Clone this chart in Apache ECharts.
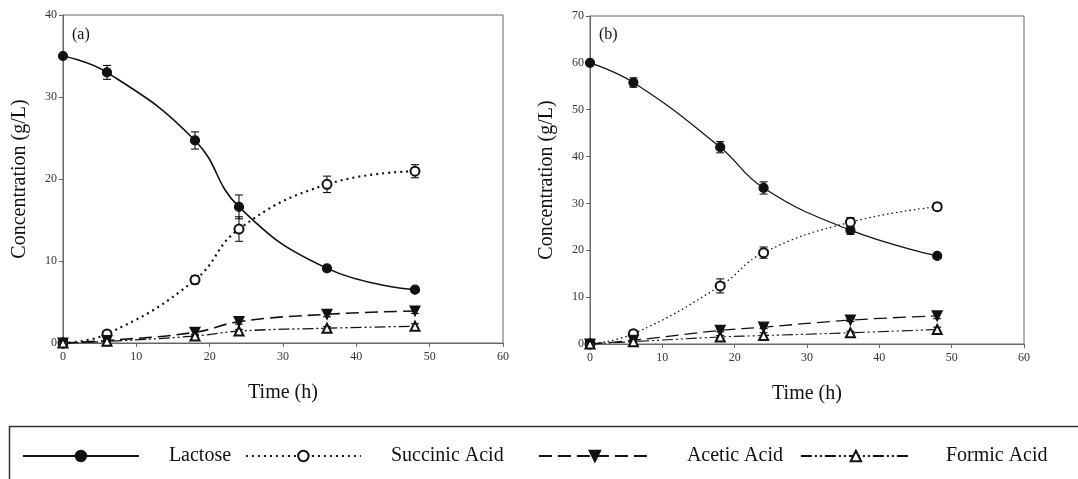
<!DOCTYPE html>
<html>
<head>
<meta charset="utf-8">
<script src="https://cdn.jsdelivr.net/npm/echarts@6/dist/echarts.min.js"></script>
<style>
  html, body { margin: 0; padding: 0; background: #fff; }
  #chart { width: 1078px; height: 479px; }
</style>
</head>
<body>
<div id="chart"></div>
<script>
// Sampling times (h)
const time = [0, 6, 18, 24, 36, 48];
const xTicks = [0, 10, 20, 30, 40, 50, 60];

// Panel (a): 35 g/L initial lactose
const lactoseA     = [35.0, 33.0, 24.7, 16.6, 9.1, 6.5];
const lactoseErrA  = [0.2, 0.85, 1.05, 1.45, 0.3, 0.3];
const succinicA    = [0, 1.1, 7.7, 13.9, 19.35, 20.95];
const succinicErrA = [0, 0.4, 0.5, 1.5, 1.0, 0.8];
const aceticA      = [0, 0.3, 1.3, 2.6, 3.5, 3.9];
const aceticErrA   = [0, 0.1, 0.3, 0.3, 0.3, 0.3];
const formicA      = [0, 0.2, 0.85, 1.45, 1.8, 2.05];
const formicErrA   = [0, 0.1, 0.2, 0.2, 0.2, 0.3];

// Panel (b): 60 g/L initial lactose
const lactoseB     = [60.0, 55.8, 42.0, 33.3, 24.3, 18.8];
const lactoseErrB  = [0.3, 1.0, 1.2, 1.3, 0.9, 0.5];
const succinicB    = [0, 2.2, 12.4, 19.5, 26.0, 29.3];
const succinicErrB = [0, 0.3, 1.5, 1.2, 1.0, 0.8];
const aceticB      = [0, 0.8, 2.9, 3.6, 5.1, 6.0];
const aceticErrB   = [0, 0.2, 0.3, 0.3, 0.3, 0.6];
const formicB      = [0, 0.5, 1.5, 1.8, 2.4, 3.1];
const formicErrB   = [0, 0.1, 0.3, 0.6, 0.3, 0.5];

const names = ['Lactose', 'Succinic Acid', 'Acetic Acid', 'Formic Acid'];

const FONT = '"Liberation Serif", "Times New Roman", serif';
const INK = '#111';
const AXIS = '#666';

const pairs = (ys) => time.map((t, i) => [t, ys[i]]);
const errData = (ys, es) => time.map((t, i) => [t, ys[i] - es[i], ys[i] + es[i]]);

// Vertical error bar with caps
function errorBar(params, api) {
  const x = api.value(0);
  const lo = api.coord([x, api.value(1)]);
  const hi = api.coord([x, api.value(2)]);
  const w = 4;
  const style = { stroke: INK, lineWidth: 1.1, fill: null };
  return {
    type: 'group',
    children: [
      { type: 'line', shape: { x1: lo[0], y1: lo[1], x2: hi[0], y2: hi[1] }, style },
      { type: 'line', shape: { x1: lo[0] - w, y1: lo[1], x2: lo[0] + w, y2: lo[1] }, style },
      { type: 'line', shape: { x1: hi[0] - w, y1: hi[1], x2: hi[0] + w, y2: hi[1] }, style }
    ]
  };
}

// Visual style of each species
const styles = {
  'Lactose':       { symbol: 'circle', rotate: 0, size: 9, dash: 'solid' },
  'Succinic Acid': { symbol: 'emptyCircle', rotate: 0, size: 9, dash: [2, 4] },
  'Acetic Acid':   { symbol: 'triangle', rotate: 180, size: 10, dash: [13, 6] },
  'Formic Acid':   { symbol: 'emptyTriangle', rotate: 0, size: 9, dash: [11, 3, 2, 3, 2, 3] }
};

function lineSeries(name, ys, gi, width, dashOverride) {
  const s = styles[name];
  return {
    name, type: 'line', xAxisIndex: gi, yAxisIndex: gi,
    data: pairs(ys), smooth: 0.45, symbol: s.symbol, symbolRotate: s.rotate,
    symbolSize: s.size, showAllSymbol: true,
    lineStyle: { color: INK, width, type: dashOverride || s.dash },
    itemStyle: { color: INK, borderColor: INK, borderWidth: 1.2 },
    emphasis: { disabled: true },
    z: 3
  };
}
function errSeries(ys, es, gi) {
  return {
    type: 'custom', xAxisIndex: gi, yAxisIndex: gi,
    data: errData(ys, es), renderItem: errorBar, silent: true, z: 2
  };
}

const series = [
  lineSeries('Lactose', lactoseA, 0, 1.6),
  lineSeries('Succinic Acid', succinicA, 0, 2.2),
  lineSeries('Acetic Acid', aceticA, 0, 1.6),
  lineSeries('Formic Acid', formicA, 0, 1.3),
  lineSeries('Lactose', lactoseB, 1, 1.2),
  lineSeries('Succinic Acid', succinicB, 1, 1.3, [1.5, 3]),
  lineSeries('Acetic Acid', aceticB, 1, 1.3),
  lineSeries('Formic Acid', formicB, 1, 1.1),
  errSeries(lactoseA, lactoseErrA, 0),
  errSeries(succinicA, succinicErrA, 0),
  errSeries(aceticA, aceticErrA, 0),
  errSeries(formicA, formicErrA, 0),
  errSeries(lactoseB, lactoseErrB, 1),
  errSeries(succinicB, succinicErrB, 1),
  errSeries(aceticB, aceticErrB, 1),
  errSeries(formicB, formicErrB, 1)
];

function xAxis(gi) {
  return {
    type: 'value', gridIndex: gi, min: xTicks[0], max: xTicks[xTicks.length - 1], interval: 10,
    name: 'Time (h)', nameLocation: 'middle', nameGap: 40,
    nameTextStyle: { fontFamily: FONT, fontSize: 20, color: INK },
    axisLine: { lineStyle: { color: AXIS, width: 1 } },
    axisTick: { show: true, inside: false, length: 4, lineStyle: { color: AXIS } },
    axisLabel: { fontFamily: FONT, fontSize: 12, color: '#333', margin: 8 },
    splitLine: { show: false }
  };
}
function yAxis(gi, max) {
  return {
    type: 'value', gridIndex: gi, min: 0, max, interval: 10,
    name: 'Concentration (g/L)', nameLocation: 'middle', nameGap: 33,
    nameTextStyle: { fontFamily: FONT, fontSize: 20, color: INK },
    axisLine: { show: true, lineStyle: { color: AXIS, width: 1 } },
    axisTick: { show: true, inside: false, length: 4, lineStyle: { color: AXIS } },
    axisLabel: { fontFamily: FONT, fontSize: 12, color: '#333', margin: 6 },
    splitLine: { show: false }
  };
}

function legendFor(name, left, pad, width) {
  return {
    data: [name], left, top: 441, padding: 5, orient: 'horizontal',
    itemWidth: width, itemHeight: 13, selectedMode: false,
    textStyle: { fontFamily: FONT, fontSize: 20, color: INK, padding: [0, 0, 0, pad] },
    lineStyle: { width: 1.8 }
  };
}

const option = {
  animation: false,
  backgroundColor: '#fff',
  grid: [
    { left: 63, top: 15, width: 440, height: 328, show: true, borderColor: AXIS, borderWidth: 1 },
    { left: 590, top: 16, width: 434, height: 328, show: true, borderColor: AXIS, borderWidth: 1 }
  ],
  xAxis: [xAxis(0), xAxis(1)],
  yAxis: [yAxis(0, 40), yAxis(1, 70)],
  legend: [
    legendFor(names[0], 17, 25, 116),
    legendFor(names[1], 240, 25, 115),
    legendFor(names[2], 533, 31, 112),
    legendFor(names[3], 795, 30, 110)
  ],
  graphic: [
    { type: 'text', left: 72, top: 27, style: { text: '(a)', font: '16px ' + FONT, fill: INK } },
    { type: 'text', left: 599, top: 27, style: { text: '(b)', font: '16px ' + FONT, fill: INK } },
    { type: 'rect', left: 7, top: 424, shape: { width: 1090, height: 90 },
      style: { fill: 'none', stroke: '#333', lineWidth: 1.5 }, silent: true }
  ],
  series
};

const chart = echarts.init(document.getElementById('chart'), null, { renderer: 'canvas' });
chart.setOption(option);
</script>
</body>
</html>
